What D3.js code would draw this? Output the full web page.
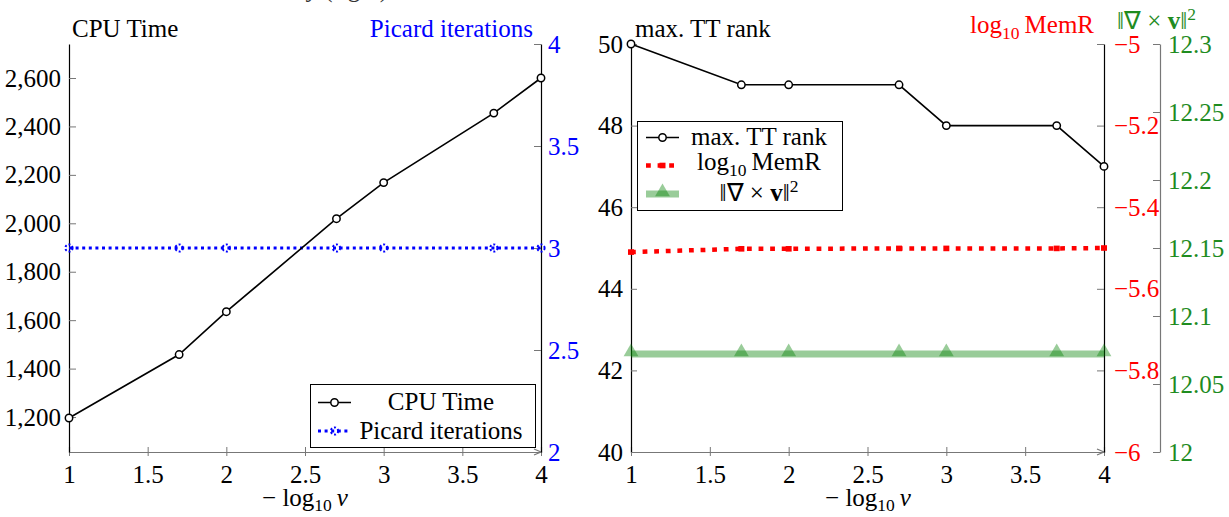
<!DOCTYPE html>
<html>
<head>
<meta charset="utf-8">
<script src="https://cdn.jsdelivr.net/npm/d3@7"></script>
<style>
  body { margin: 0; background: #fff; }
  svg { display: block; }
</style>
</head>
<body>
<svg id="chart" width="1229" height="517"></svg>
<script>
// x positions (-log10 nu), shared by both panels
const nuLevels = [1, 1.7, 2, 2.7, 3, 3.7, 4];
const xTicks = [1, 1.5, 2, 2.5, 3, 3.5, 4];

// left panel
const cpuTime = [1196, 1458, 1635, 2019, 2168, 2455, 2600];
const picardIters = [3, 3, 3, 3, 3, 3, 3];
const cpuTicks = [1200, 1400, 1600, 1800, 2000, 2200, 2400, 2600];
const picardTicks = [2, 2.5, 3, 3.5, 4];

// right panel
const ttRank = [50, 49, 49, 49, 48, 48, 47];
const memR = [-5.51, -5.502, -5.502, -5.501, -5.501, -5.501, -5.5];
const curlNorm = [12.072, 12.072, 12.072, 12.072, 12.072, 12.072, 12.072];
const ttTicks = [40, 42, 44, 46, 48, 50];
const memTicks = [-6, -5.8, -5.6, -5.4, -5.2, -5];
const curlTicks = [12, 12.05, 12.1, 12.15, 12.2, 12.25, 12.3];

const GRAY = "#777";
const BLUE = "#0000ff";
const RED = "#ff0000";
const GREEN = "#008000";
const GREEN_TXT = "#1f8c1f";

const svg = d3.select("#chart");

// find a serif face that is really installed
function widthOf(family, size, str) {
    const t = svg.append("text").style("font-family", family).attr("font-size", size).text(str);
    const w = t.node().getComputedTextLength();
    t.remove();
    return w;
}
const sample = "CPU Time 2,600 iterations";
const monoW = widthOf("monospace", 100, sample);
const candidates = ["Liberation Serif", "Times New Roman", "Tinos", "DejaVu Serif", "Noto Serif", "FreeSerif"];
let serifName = "serif";
for (const c of candidates) {
    if (Math.abs(widthOf(`'${c}', monospace`, 100, sample) - monoW) > 1) { serifName = `'${c}'`; break; }
}
const FONT = `${serifName}, serif`;
svg.style("font-family", FONT);

// pick a font size so that "CPU Time" is about as wide as in the picture (110px)
const FS = Math.min(25, Math.max(18, 100 * 110 / widthOf(FONT, 100, "CPU Time")));
const SUB = FS * 0.7;

function styleAxis(g, lineColor, textColor) {
    g.attr("font-family", null).style("font-family", FONT).attr("font-size", FS);
    g.select(".domain").attr("stroke", lineColor).attr("stroke-width", 1.2);
    g.selectAll(".tick line").attr("stroke", GRAY).attr("stroke-width", 1);
    g.selectAll(".tick text").attr("fill", textColor);
}

function xAxis(x, y0) {
    const g = svg.append("g")
        .attr("transform", `translate(0,${y0})`)
        .call(d3.axisBottom(x).tickValues(xTicks).tickSizeOuter(0)
            .tickSize(-5).tickPadding(13).tickFormat(d3.format("")));
    styleAxis(g, GRAY, "#000");
    g.selectAll(".tick line").attr("y1", -5).attr("y2", 4);
    // arrow tip
    const xe = x.range()[1];
    g.append("path")
        .attr("d", `M${xe - 7},-3 L${xe},0 L${xe - 7},3`)
        .attr("fill", "none").attr("stroke", GRAY).attr("stroke-width", 1.2);
    return g;
}

function mathLabel(cx, y) {
    const t = svg.append("text").attr("x", cx).attr("y", y)
        .attr("text-anchor", "middle").attr("font-size", FS);
    t.append("tspan").text("\u2212 log");
    t.append("tspan").attr("dy", 5).attr("font-size", SUB).text("10");
    t.append("tspan").attr("dy", -5).attr("font-style", "italic").text("\u2009\u03bd");
}

function memText(sel) {
    sel.append("tspan").text("log");
    sel.append("tspan").attr("dy", 6).attr("font-size", SUB).text("10");
    sel.append("tspan").attr("dy", -6).text("\u2009MemR");
}

function curlText(sel) {
    sel.append("tspan").text("\u2016\u2207 \u00d7 ");
    sel.append("tspan").attr("font-weight", "bold").text("v");
    sel.append("tspan").text("\u2016");
    sel.append("tspan").attr("dy", -9).attr("font-size", SUB).text("2");
}

// ---------------- left panel ----------------
const x1 = d3.scaleLinear().domain([1, 4]).range([69, 541]);
const cpuSpan = d3.max(cpuTime) - d3.min(cpuTime);
const yCpu = d3.scaleLinear()
    .domain([d3.min(cpuTime) - 0.1 * cpuSpan, d3.max(cpuTime) + 0.1 * cpuSpan])
    .range([452, 44]);
const yPic = d3.scaleLinear().domain([2, 4]).range([452, 44]);

xAxis(x1, 452);

const gCpu = svg.append("g").attr("transform", "translate(69,0)")
    .call(d3.axisLeft(yCpu).tickValues(cpuTicks).tickSizeInner(-7).tickSizeOuter(0)
        .tickPadding(8).tickFormat(d3.format(",")));
styleAxis(gCpu, "#000", "#000");

const gPic = svg.append("g").attr("transform", "translate(541,0)")
    .call(d3.axisRight(yPic).tickValues(picardTicks).tickSizeInner(-7).tickSizeOuter(0)
        .tickPadding(7).tickFormat(d3.format("")));
styleAxis(gPic, "#000", BLUE);

// picard line (dotted blue with dotted circle marks)
const picLine = d3.line().x((d, i) => x1(nuLevels[i])).y(d => yPic(d));
svg.append("path").datum(picardIters).attr("d", picLine)
    .attr("fill", "none").attr("stroke", BLUE).attr("stroke-width", 3)
    .attr("stroke-dasharray", "3,3.6");
svg.selectAll(".picmark").data(picardIters).join("circle")
    .attr("cx", (d, i) => x1(nuLevels[i])).attr("cy", d => yPic(d)).attr("r", 3.6)
    .attr("fill", "none").attr("stroke", BLUE).attr("stroke-width", 2)
    .attr("stroke-dasharray", "2,2");

// cpu line
const cpuLine = d3.line().x((d, i) => x1(nuLevels[i])).y(d => yCpu(d));
svg.append("path").datum(cpuTime).attr("d", cpuLine)
    .attr("fill", "none").attr("stroke", "#000").attr("stroke-width", 1.6);
svg.selectAll(".cpumark").data(cpuTime).join("circle")
    .attr("cx", (d, i) => x1(nuLevels[i])).attr("cy", d => yCpu(d)).attr("r", 3.7)
    .attr("fill", "#fff").attr("stroke", "#000").attr("stroke-width", 1.5);

// titles
svg.append("text").attr("x", 388).attr("y", -3).attr("text-anchor", "end")
    .attr("font-size", FS).attr("fill", "#333").text("y (right)");
svg.append("text").attr("x", 72).attr("y", 37).attr("font-size", FS).text("CPU Time");
svg.append("text").attr("x", 533).attr("y", 37).attr("text-anchor", "end")
    .attr("font-size", FS).attr("fill", BLUE).text("Picard iterations");
mathLabel(305, 506);

// legend
const lg1 = svg.append("g");
lg1.append("rect").attr("x", 310.5).attr("y", 384.5).attr("width", 225).attr("height", 63)
    .attr("fill", "#fff").attr("stroke", "#000").attr("stroke-width", 1);
lg1.append("line").attr("x1", 318).attr("x2", 351).attr("y1", 402.5).attr("y2", 402.5)
    .attr("stroke", "#000").attr("stroke-width", 1.6);
lg1.append("circle").attr("cx", 334.5).attr("cy", 402.5).attr("r", 3.7)
    .attr("fill", "#fff").attr("stroke", "#000").attr("stroke-width", 1.5);
lg1.append("text").attr("x", 441).attr("y", 410).attr("text-anchor", "middle")
    .attr("font-size", FS).text("CPU Time");
lg1.append("line").attr("x1", 318).attr("x2", 351).attr("y1", 431).attr("y2", 431)
    .attr("stroke", BLUE).attr("stroke-width", 3).attr("stroke-dasharray", "3,3.6");
lg1.append("circle").attr("cx", 334.5).attr("cy", 431).attr("r", 3.6)
    .attr("fill", "none").attr("stroke", BLUE).attr("stroke-width", 2)
    .attr("stroke-dasharray", "2,2");
lg1.append("text").attr("x", 441).attr("y", 438.5).attr("text-anchor", "middle")
    .attr("font-size", FS).text("Picard iterations");

// ---------------- right panel ----------------
const x2 = d3.scaleLinear().domain([1, 4]).range([631, 1104]);
const yTT = d3.scaleLinear().domain([40, 50]).range([452, 44]);
const yMem = d3.scaleLinear().domain([-6, -5]).range([452, 44]);
const yCurl = d3.scaleLinear().domain([12, 12.3]).range([452, 44]);

xAxis(x2, 452);

const gTT = svg.append("g").attr("transform", "translate(631,0)")
    .call(d3.axisLeft(yTT).tickValues(ttTicks).tickSizeInner(-6).tickSizeOuter(0)
        .tickPadding(8).tickFormat(d3.format("")));
styleAxis(gTT, "#000", "#000");

const gMem = svg.append("g").attr("transform", "translate(1104,0)")
    .call(d3.axisRight(yMem).tickValues(memTicks).tickSizeInner(-7).tickSizeOuter(0)
        .tickPadding(10).tickFormat(d3.format("")));
styleAxis(gMem, "#000", RED);

const gCurl = svg.append("g").attr("transform", "translate(1160,0)")
    .call(d3.axisRight(yCurl).tickValues(curlTicks).tickSizeInner(-7).tickSizeOuter(0)
        .tickPadding(8).tickFormat(d3.format("")));
styleAxis(gCurl, GRAY, GREEN_TXT);

// curl line (thick translucent green with triangles)
const curlLine = d3.line().x((d, i) => x2(nuLevels[i])).y(d => yCurl(d));
svg.append("path").datum(curlNorm).attr("d", curlLine)
    .attr("fill", "none").attr("stroke", GREEN).attr("stroke-opacity", 0.4).attr("stroke-width", 7);
const tri = d3.symbol().type(d3.symbolTriangle).size(95);
svg.selectAll(".curlmark").data(curlNorm).join("path")
    .attr("transform", (d, i) => `translate(${x2(nuLevels[i])},${yCurl(d) - 2})`)
    .attr("d", tri).attr("fill", GREEN).attr("fill-opacity", 0.4);

// memR line (thick red dotted)
const memLine = d3.line().x((d, i) => x2(nuLevels[i])).y(d => yMem(d));
svg.append("path").datum(memR).attr("d", memLine)
    .attr("fill", "none").attr("stroke", RED).attr("stroke-width", 4.5)
    .attr("stroke-dasharray", "4.8,6.8");
svg.selectAll(".memmark").data(memR).join("rect")
    .attr("x", (d, i) => x2(nuLevels[i]) - 3).attr("y", d => yMem(d) - 2.8)
    .attr("width", 6).attr("height", 5.6).attr("fill", RED);

// tt rank line
const ttLine = d3.line().x((d, i) => x2(nuLevels[i])).y(d => yTT(d));
svg.append("path").datum(ttRank).attr("d", ttLine)
    .attr("fill", "none").attr("stroke", "#000").attr("stroke-width", 1.6);
svg.selectAll(".ttmark").data(ttRank).join("circle")
    .attr("cx", (d, i) => x2(nuLevels[i])).attr("cy", d => yTT(d)).attr("r", 3.7)
    .attr("fill", "#fff").attr("stroke", "#000").attr("stroke-width", 1.5);

// titles
svg.append("text").attr("x", 635).attr("y", 37).attr("font-size", FS).text("max. TT rank");
svg.append("text").attr("x", 1094).attr("y", 33).attr("text-anchor", "end")
    .attr("font-size", FS).attr("fill", RED).call(memText);
svg.append("text").attr("x", 1117).attr("y", 29)
    .attr("font-size", FS).attr("fill", GREEN_TXT).call(curlText);
mathLabel(868, 506);

// legend
const lg2 = svg.append("g");
lg2.append("rect").attr("x", 637.5).attr("y", 121.5).attr("width", 205).attr("height", 89)
    .attr("fill", "#fff").attr("stroke", "#000").attr("stroke-width", 1);
lg2.append("line").attr("x1", 646).attr("x2", 679).attr("y1", 137.5).attr("y2", 137.5)
    .attr("stroke", "#000").attr("stroke-width", 1.6);
lg2.append("circle").attr("cx", 662.5).attr("cy", 137.5).attr("r", 3.7)
    .attr("fill", "#fff").attr("stroke", "#000").attr("stroke-width", 1.5);
lg2.append("text").attr("x", 759).attr("y", 145).attr("text-anchor", "middle")
    .attr("font-size", FS).text("max. TT rank");
lg2.append("line").attr("x1", 646).attr("x2", 679).attr("y1", 165.5).attr("y2", 165.5)
    .attr("stroke", RED).attr("stroke-width", 4.5).attr("stroke-dasharray", "4.8,6.8");
lg2.append("rect").attr("x", 659.5).attr("y", 162.7).attr("width", 6).attr("height", 5.6).attr("fill", RED);
lg2.append("text").attr("x", 759).attr("y", 170).attr("text-anchor", "middle")
    .attr("font-size", FS).call(memText);
lg2.append("line").attr("x1", 646).attr("x2", 679).attr("y1", 194).attr("y2", 194)
    .attr("stroke", GREEN).attr("stroke-opacity", 0.4).attr("stroke-width", 7);
lg2.append("path").attr("transform", "translate(662.5,192)").attr("d", tri)
    .attr("fill", GREEN).attr("fill-opacity", 0.4);
lg2.append("text").attr("x", 759).attr("y", 201).attr("text-anchor", "middle")
    .attr("font-size", FS).call(curlText);
</script>
</body>
</html>
